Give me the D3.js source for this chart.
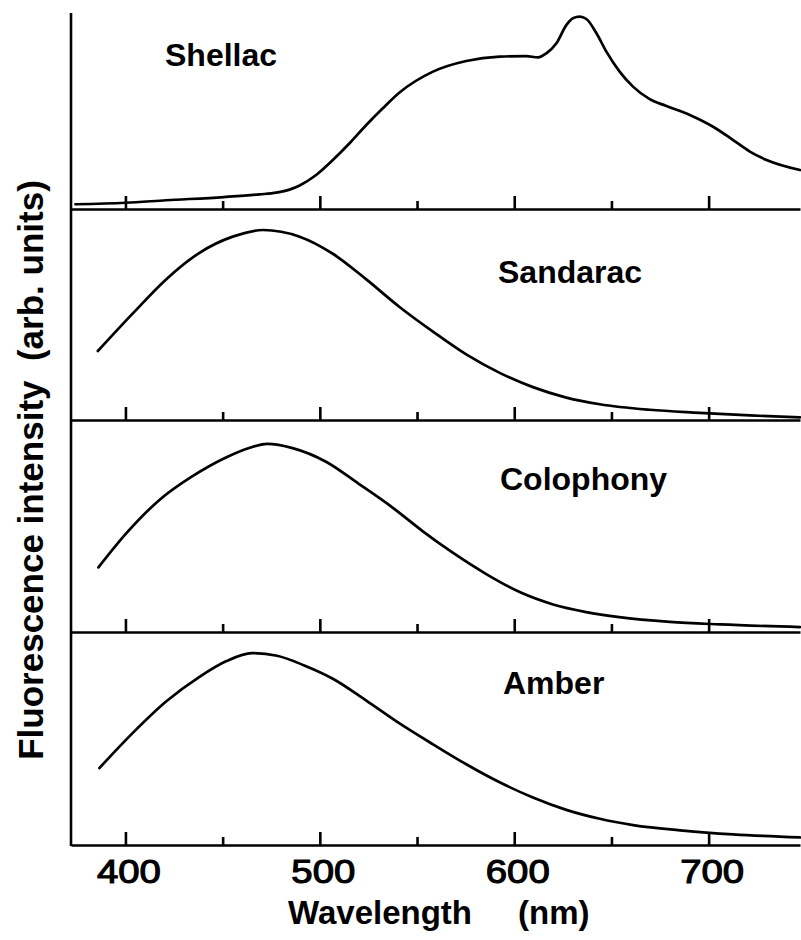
<!DOCTYPE html>
<html>
<head>
<meta charset="utf-8">
<script src="https://cdn.jsdelivr.net/npm/d3@7"></script>
<style>
  html, body { margin: 0; padding: 0; background: #fff; }
  svg { display: block; }
  text { font-family: "Liberation Sans", Arial, Helvetica, sans-serif; fill: #000; }
</style>
</head>
<body>
<svg id="chart" width="801" height="940"></svg>
<script>
// ---- data (wavelength nm, fluorescence intensity arb. units) ----
const seriesNames = ["Shellac", "Sandarac", "Colophony", "Amber"];

const shellac = [
  [374.3, 2.5], [400, 3.3], [420.9, 4.6], [450.6, 6.3], [469, 7.7], [477.6, 8.6],
  [484.4, 10.2], [489.6, 12.4], [498.1, 17.9], [506.7, 25.8], [515.3, 34.6],
  [523.9, 44.2], [532.4, 53], [541, 61.3], [558.2, 72.3], [575.3, 77.9],
  [592.5, 80.2], [606.2, 80.5], [612.2, 79.8], [616.5, 81.9], [621.7, 87.2],
  [626.8, 96.8], [630.2, 100.4], [633.7, 101.2], [637.1, 100], [642.3, 92.5],
  [647.4, 82.8], [654.2, 72.3], [661.1, 64.4], [669.7, 57.8], [678.3, 54.2],
  [690.3, 49.5], [702.3, 43.3], [712.6, 36.3], [721.2, 30.2], [729.8, 25.8],
  [747, 20.5]
];

const sandarac = [
  [385.8, 36.3], [403.8, 56.1], [420.9, 74], [438.1, 88], [455.2, 96.5],
  [470.7, 100], [489.6, 96.5], [506.7, 87.5], [523.9, 74], [541, 59.5],
  [558.2, 46.5], [575.3, 34.5], [592.5, 24.8], [609.6, 17.3], [626.8, 11.8],
  [644, 8.3], [669.7, 5.4], [695.4, 3.8], [721.2, 2.4], [747, 1.4]
];

const colophony = [
  [386.1, 34], [400.5, 52], [417.5, 69.5], [434.5, 82], [452, 92],
  [464, 97], [473, 99], [486, 96.8], [503.4, 89.5], [520, 78],
  [537.4, 65.5], [553, 53], [568, 42], [585.6, 30.5], [602.8, 21],
  [620, 14.5], [637, 10.5], [654, 7.8], [680, 5.3], [705.7, 4], [747, 2.6]
];

const amber = [
  [386.6, 40.5], [403.8, 59], [420.9, 75.5], [438.1, 88.5], [452, 96.8],
  [465, 101], [478, 99.6], [492, 94.5], [506.7, 87.5], [523.9, 76],
  [541, 64], [558.2, 53], [575.3, 42.5], [592.5, 33], [609.6, 25],
  [626.8, 18.5], [644, 13.8], [661.1, 10.5], [686.8, 7.6], [712.6, 5.6],
  [747, 4]
];

const seriesData = [shellac, sandarac, colophony, amber];

const majorTicks = [400, 500, 600, 700];
const minorTicks = [450, 550, 650];
const xDomain = [372, 747];
const yDomain = [0, 100];

const xTitle = "Wavelength";
const xUnit = "(nm)";
const yTitle = "Fluorescence intensity  (arb. units)";

// ---- layout ----
const svg = d3.select("#chart");
const left = 71, right = 800;
const baselines = [209, 420, 632, 845];
const panelH = 190;
const axisTop = 13;
const labelPos = [[165, 66], [498, 283], [500, 490], [503, 694]];

const x = d3.scaleLinear().domain(xDomain).range([left, right]);

// vertical axis line
svg.append("line")
  .attr("x1", left).attr("x2", left)
  .attr("y1", axisTop).attr("y2", baselines[3] + 1)
  .attr("stroke", "#000").attr("stroke-width", 2.6);

baselines.forEach((b, i) => {
  const y = d3.scaleLinear().domain(yDomain).range([b, b - panelH]);
  const g = svg.append("g");

  // major ticks (pointing up) with baseline line as domain
  const major = d3.axisBottom(x).tickValues(majorTicks)
    .tickSizeInner(-13).tickSizeOuter(0).tickPadding(15)
    .tickFormat(i === 3 ? d3.format("d") : () => "");
  const gMaj = g.append("g").attr("transform", `translate(0,${b})`).call(major);
  gMaj.select(".domain").attr("stroke", "#000").attr("stroke-width", 2.6);
  gMaj.selectAll(".tick line").attr("stroke", "#000").attr("stroke-width", 2.6);
  gMaj.selectAll(".tick text")
    .attr("font-size", 33)
    .attr("font-family", "'Liberation Sans', Arial, sans-serif")
    .attr("stroke", "#000").attr("stroke-width", 1.1)
    .attr("textLength", 64).attr("lengthAdjust", "spacingAndGlyphs")
    .attr("dx", 3);

  const minor = d3.axisBottom(x).tickValues(minorTicks)
    .tickSizeInner(-8).tickSizeOuter(0).tickFormat(() => "");
  const gMin = g.append("g").attr("transform", `translate(0,${b})`).call(minor);
  gMin.select(".domain").remove();
  gMin.selectAll(".tick line").attr("stroke", "#000").attr("stroke-width", 2.6);

  // curve
  const line = d3.line()
    .x(d => x(d[0])).y(d => y(d[1]))
    .curve(d3.curveMonotoneX);
  g.append("path")
    .datum(seriesData[i])
    .attr("d", line)
    .attr("fill", "none")
    .attr("stroke", "#000")
    .attr("stroke-width", 2.7)
    .attr("stroke-linecap", "round")
    .attr("stroke-linejoin", "round");

  // panel label
  g.append("text")
    .attr("x", labelPos[i][0]).attr("y", labelPos[i][1])
    .attr("font-size", 32).attr("font-weight", "bold")
    .text(seriesNames[i]);
});

// x title
svg.append("text")
  .attr("x", 288).attr("y", 924)
  .attr("font-size", 33).attr("font-weight", "bold")
  .text(xTitle);
svg.append("text")
  .attr("x", 518).attr("y", 924)
  .attr("font-size", 33).attr("font-weight", "bold")
  .text(xUnit);

// y title
svg.append("text")
  .attr("transform", "translate(43,470) rotate(-90)")
  .attr("text-anchor", "middle")
  .attr("font-size", 35).attr("font-weight", "bold")
  .style("white-space", "pre")
  .text(yTitle);
</script>
</body>
</html>
